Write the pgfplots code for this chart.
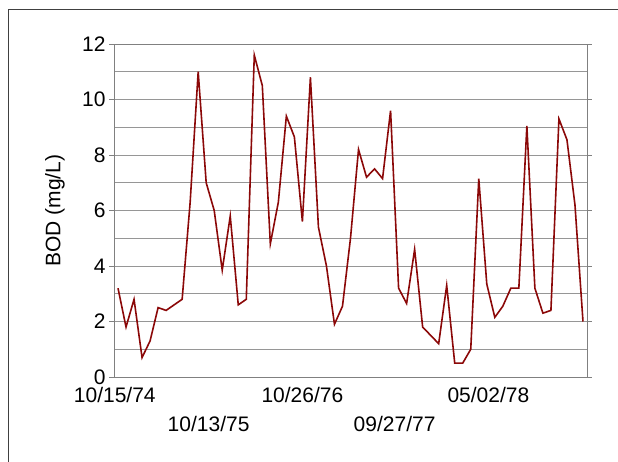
\documentclass[border=0pt]{standalone}
\usepackage{fontspec}
\setmainfont{Liberation Sans}
\usepackage{pgfplots}
\pgfplotsset{compat=1.18}
\definecolor{bodred}{RGB}{139,8,8}
\definecolor{gridgray}{RGB}{150,150,150}
\definecolor{axisgray}{RGB}{128,128,128}

\begin{document}
\begin{tikzpicture}
\useasboundingbox (-114pt,-85pt) rectangle (504pt,377pt);
% outer frame of the sheet, cut by the picture edge
\draw[line width=1pt, black!75] (-105pt,-95pt) -- (-105pt,367pt) -- (510pt,367pt);
\begin{axis}[
  at={(0pt,0pt)}, anchor=south west,
  scale only axis, width=473pt, height=333pt,
  xmin=-0.5, xmax=58.5, ymin=0, ymax=12,
  ytick={0,2,...,12},
  minor y tick num=1,
  ymajorgrids, yminorgrids,
  grid style={gridgray, line width=0.8pt},
  minor grid style={gridgray, line width=0.8pt},
  axis line style={axisgray, line width=0.9pt},
  tick align=outside,
  major tick length=5pt, minor tick length=0pt,
  ytick style={axisgray, line width=0.9pt},
  xtick style={draw=none},
  xtick={-0.4,23,46.2},
  xticklabels={10/15/74,10/26/76,05/02/78},
  x tick label style={yshift=-2pt},
  extra x ticks={11.3,34.5},
  extra x tick labels={10/13/75,09/27/77},
  extra x tick style={xtick style={draw=none}, tick label style={yshift=-29pt}},
  tick label style={font=\fontsize{21}{21}\selectfont, black},
  /pgf/number format/assume math mode=true,
  ylabel={BOD (mg/L)},
  ylabel style={font=\fontsize{21}{21}\selectfont, at={(axis description cs:-0.125,0.5)}, anchor=center},
]
\addplot[bodred, line width=1.6pt, mark=none] coordinates {
  (0,3.2) (1,1.8) (2,2.8) (3,0.7) (4,1.3) (5,2.5) (6,2.4) (7,2.6) (8,2.8) (9,6.3)
  (10,11.0) (11,7.0) (12,6.0) (13,3.85) (14,5.8) (15,2.6) (16,2.8) (17,11.6) (18,10.5) (19,4.8)
  (20,6.3) (21,9.4) (22,8.65) (23,5.6) (24,10.8) (25,5.4) (26,4.0) (27,1.9) (28,2.55) (29,5.0)
  (30,8.2) (31,7.2) (32,7.5) (33,7.15) (34,9.6) (35,3.2) (36,2.65) (37,4.6) (38,1.8) (39,1.5)
  (40,1.2) (41,3.3) (42,0.5) (43,0.5) (44,1.0) (45,7.15) (46,3.35) (47,2.15) (48,2.55) (49,3.2)
  (50,3.2) (51,9.05) (52,3.2) (53,2.3) (54,2.4) (55,9.3) (56,8.55) (57,6.2) (58,2.0)
};
\end{axis}
\end{tikzpicture}
\end{document}
